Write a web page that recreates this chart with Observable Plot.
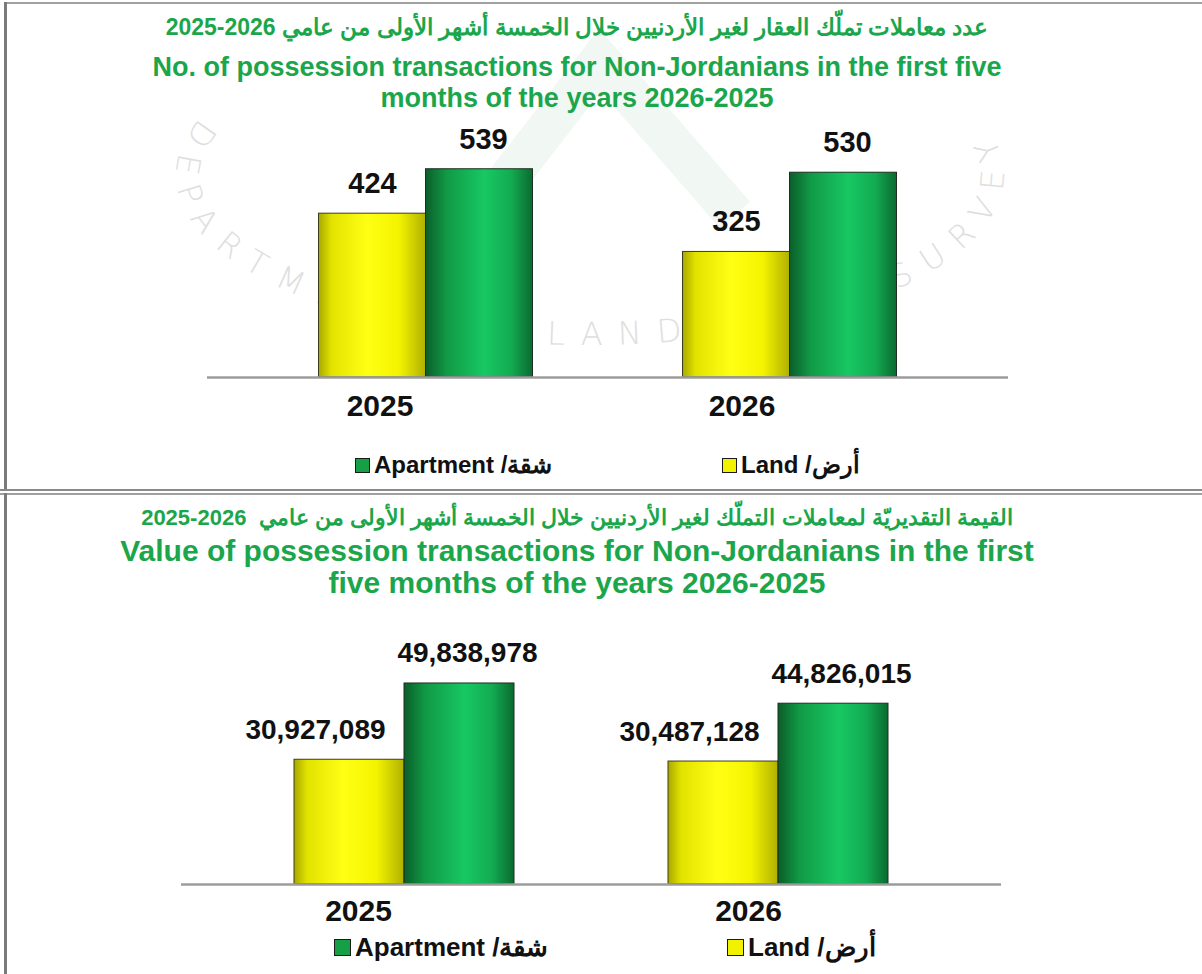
<!DOCTYPE html>
<html>
<head>
<meta charset="utf-8">
<script src="https://cdn.jsdelivr.net/npm/d3@7"></script>
<script src="https://cdn.jsdelivr.net/npm/@observablehq/plot@0.6"></script>
<style>
  html, body { margin: 0; padding: 0; background: #fff; }
  body { width: 1202px; height: 974px; position: relative; overflow: hidden; font-family: "Liberation Sans", Arial, sans-serif; }
  .abs { position: absolute; }
  .title { position: absolute; left: 0; width: 1154px; text-align: center; color: #1ba64b; font-weight: bold; white-space: nowrap; }
  .legend { position: absolute; font-weight: bold; color: #111; white-space: nowrap; direction: ltr; display: flex; align-items: center; }
  .sw { display: inline-block; border: 1.5px solid #1a1a1a; box-sizing: border-box; margin-right: 4px; }
</style>
</head>
<body>
<svg width="0" height="0" style="position:absolute">
  <defs>
    <linearGradient id="gLand" x1="0" x2="1" y1="0" y2="0">
      <stop offset="0" stop-color="#a8a800"/>
      <stop offset="0.12" stop-color="#e2e200"/>
      <stop offset="0.45" stop-color="#ffff14"/>
      <stop offset="0.75" stop-color="#f4f400"/>
      <stop offset="1" stop-color="#b0b000"/>
    </linearGradient>
    <linearGradient id="gApt" x1="0" x2="1" y1="0" y2="0">
      <stop offset="0" stop-color="#0b5e2a"/>
      <stop offset="0.2" stop-color="#119a46"/>
      <stop offset="0.55" stop-color="#17c862"/>
      <stop offset="0.8" stop-color="#13ab52"/>
      <stop offset="1" stop-color="#0a6a30"/>
    </linearGradient>
  </defs>
</svg>

<!-- watermark -->
<svg class="abs" style="left:0;top:0" width="1202" height="488">
  <polyline points="480,215 600,60 735,215" fill="none" stroke="#f1f7f3" stroke-width="40"/>
  <path id="wmArc" d="M 200 118 A 414 170 0 1 0 980 118" fill="none"/>
  <text fill="#dedede" font-size="32" font-weight="300" font-family="DejaVu Sans, sans-serif">
    <textPath href="#wmArc" textLength="1060" lengthAdjust="spacing">DEPARTMENT OF LANDS AND SURVEY</textPath>
  </text>
</svg>

<!-- panel borders -->
<div class="abs" style="left:4px;top:2px;width:1198px;height:0;border-top:2px solid #a0a0a0"></div>
<div class="abs" style="left:4px;top:2px;width:0;height:488px;border-left:3px solid #7a7a7a"></div>
<div class="abs" style="left:0;top:489px;width:1202px;height:0;border-top:2px solid #8a8a8a"></div>
<div class="abs" style="left:0;top:493px;width:1202px;height:0;border-top:2px solid #a0a0a0"></div>
<div class="abs" style="left:4px;top:493px;width:0;height:481px;border-left:3px solid #7a7a7a"></div>

<!-- titles top -->
<div class="title" style="top:13px;font-size:23px;line-height:28px;direction:rtl;">عدد معاملات تملّك العقار لغير الأردنيين خلال الخمسة أشهر الأولى من عامي 2026-2025</div>
<div class="title" style="top:52px;font-size:27px;line-height:31px;">No. of possession transactions for Non-Jordanians in the first five</div>
<div class="title" style="top:83px;font-size:27px;line-height:31px;">months of the years 2026-2025</div>

<!-- titles bottom -->
<div class="title" style="top:504px;font-size:22px;line-height:28px;direction:rtl;">القيمة التقديريّة لمعاملات التملّك لغير الأردنيين خلال الخمسة أشهر الأولى من عامي&nbsp; 2026-2025</div>
<div class="title" style="top:535px;font-size:30px;line-height:32px;">Value of possession transactions for Non-Jordanians in the first</div>
<div class="title" style="top:567px;font-size:30px;line-height:32px;">five months of the years 2026-2025</div>

<div id="chart1" class="abs" style="left:0;top:0"></div>
<div id="chart2" class="abs" style="left:0;top:492px"></div>

<!-- legends -->
<div class="legend" style="left:355px;top:451px;height:28px;font-size:24px;"><span class="sw" style="width:15px;height:15px;background:#15a046"></span><span>Apartment /شقة</span></div>
<div class="legend" style="left:722px;top:451px;height:28px;font-size:24px;"><span class="sw" style="width:15px;height:15px;background:#f2f200"></span><span>Land /أرض</span></div>
<div class="legend" style="left:334px;top:932px;height:30px;font-size:26px;"><span class="sw" style="width:17px;height:17px;background:#15a046"></span><span>Apartment /شقة</span></div>
<div class="legend" style="left:727px;top:932px;height:30px;font-size:26px;"><span class="sw" style="width:17px;height:17px;background:#f2f200"></span><span>Land /أرض</span></div>

<script>
// ---- data ----
const years = ["2025", "2026"];
const countLand = [424, 325];
const countApartment = [539, 530];
const valueLand = [30927089, 30487128];
const valueApartment = [49838978, 44826015];

const rows = (vals) => years.map((y, i) => ({year: y, value: vals[i]}));
const fmt = d3.format(",");

function chart(o) {
  const land = rows(o.land), apt = rows(o.apt);
  const half = o.barW / 2;
  return Plot.plot({
    width: 1202,
    height: o.height,
    marginTop: o.marginTop,
    marginBottom: o.marginBottom,
    marginLeft: o.marginLeft,
    marginRight: o.marginRight,
    style: {fontFamily: "'Liberation Sans', Arial, sans-serif", background: "transparent", overflow: "visible"},
    x: {domain: years, paddingInner: o.pInner, paddingOuter: o.pOuter, axis: null},
    y: {domain: [0, o.yMax], axis: null},
    marks: [
      Plot.barY(land, {x: "year", y: "value", dx: -half, fill: "url(#gLand)", stroke: "#3c3c1a", strokeWidth: 1}),
      Plot.barY(apt, {x: "year", y: "value", dx: half, fill: "url(#gApt)", stroke: "#1e2e22", strokeWidth: 1}),
      Plot.ruleY([0], {stroke: "#9c9c9c", strokeWidth: 2.5}),
      Plot.text(land, {x: "year", y: "value", text: d => fmt(d.value), dx: -half + o.landDx, dy: -30, fontSize: o.valueSize, fontWeight: "bold", fill: "#111"}),
      Plot.text(apt, {x: "year", y: "value", text: d => fmt(d.value), dx: half + o.aptDx, dy: -30, fontSize: o.valueSize, fontWeight: "bold", fill: "#111"}),
      ...years.map((yr, i) => Plot.text([yr], {x: d => d, frameAnchor: "bottom", text: d => d, dx: o.yearDx[i], dy: o.yearDy, fontSize: 30, fontWeight: "bold", fill: "#111"}))
    ]
  });
}

document.getElementById("chart1").append(chart({
  land: countLand, apt: countApartment, yMax: 660,
  height: 437, marginTop: 122, marginBottom: 60, marginLeft: 207, marginRight: 194,
  pInner: 0.707, pOuter: 0.451, barW: 107,
  landDx: 0, aptDx: 4, valueSize: 29, yearDx: [-46, -48], yearDy: 38
}));

document.getElementById("chart2").append(chart({
  land: valueLand, apt: valueApartment, yMax: 60000000,
  height: 440, marginTop: 150, marginBottom: 48, marginLeft: 181, marginRight: 201,
  pInner: 0.7067, pOuter: 0.4467, barW: 110,
  landDx: -34, aptDx: 8, valueSize: 28, yearDx: [-46, -30], yearDy: 36
}));
</script>
</body>
</html>
